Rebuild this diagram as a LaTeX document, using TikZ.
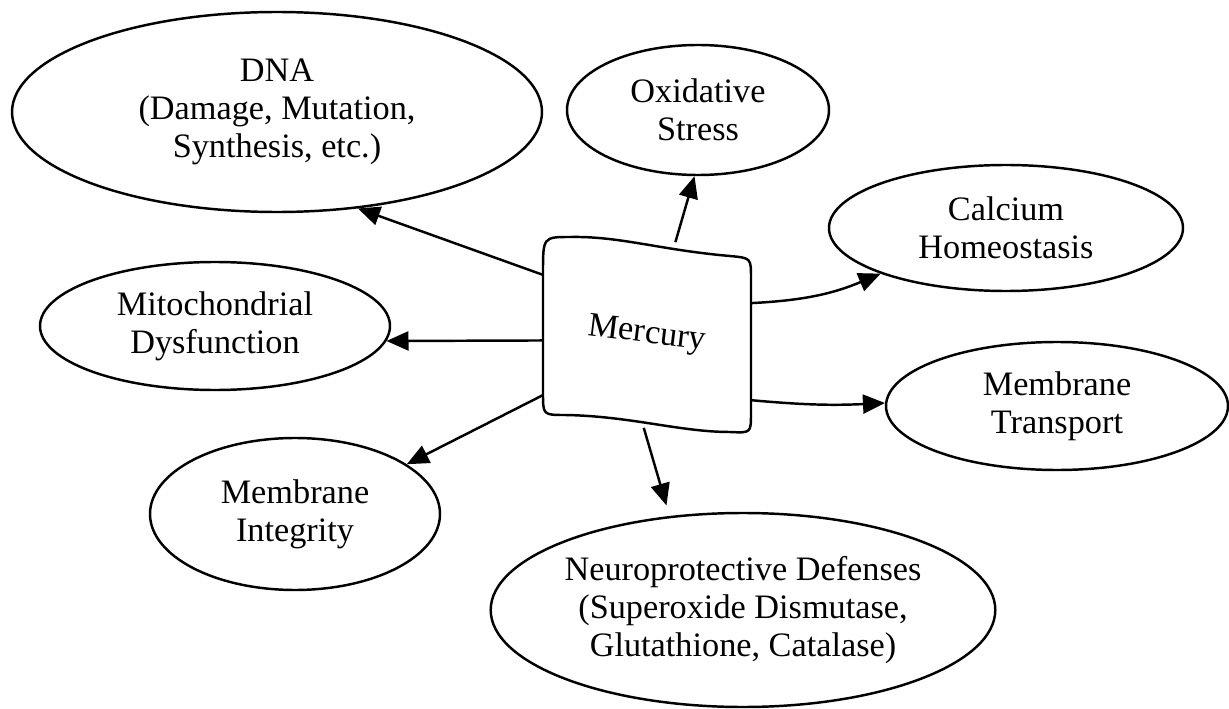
\documentclass[tikz,border=0pt]{standalone}
\usepackage{fontspec}
\setmainfont{Liberation Serif}
\usetikzlibrary{arrows.meta,shapes.geometric}

\begin{document}
\begin{tikzpicture}[
  efecto/.style={ellipse, draw, line width=1.4pt, inner sep=0pt, align=center,
    font=\fontsize{19.5}{21.6}\selectfont},
  flecha/.style={-{Triangle[length=0.44cm,width=0.38cm]}, line width=1.4pt}
]
  \useasboundingbox (0,0) rectangle (24.58,14.16);

  % Nodo central
  \node[minimum width=4.16cm, minimum height=3.7cm, font=\fontsize{19.5}{21.6}\selectfont]
    (hg) at (12.94,7.46) {\raisebox{6pt}{\rotatebox{-7}{Mercury}}};
  \draw[line width=1.4pt] (10.86,8.7) .. controls (10.86,9.42) .. (11.4,9.42)
    .. controls (12.4,9.44) and (13.2,9.16) .. (14.6,9.04)
    .. controls (15.02,9.0) .. (15.02,8.6) -- (15.02,5.9)
    .. controls (15.02,5.5) .. (14.6,5.52)
    .. controls (13.6,5.52) and (12.6,5.84) .. (11.3,5.86)
    .. controls (10.86,5.86) .. (10.86,6.3) -- cycle;

  % Efectos del mercurio
  \node[efecto, minimum width=10.6cm, minimum height=4cm] (dna) at (5.54,11.92)
    {DNA\\(Damage, Mutation,\\Synthesis, etc.)};
  \node[efecto, minimum width=5.24cm, minimum height=2.6cm] (ox) at (13.96,11.96)
    {Oxidative\\Stress};
  \node[efecto, minimum width=7.08cm, minimum height=2.52cm] (ca) at (20.12,9.6)
    {Calcium\\Homeostasis};
  \node[efecto, minimum width=7.0cm, minimum height=2.56cm] (mito) at (4.3,7.64)
    {Mitochondrial\\Dysfunction};
  \node[efecto, minimum width=6.84cm, minimum height=2.56cm] (mt) at (21.14,6.04)
    {Membrane\\Transport};
  \node[efecto, minimum width=5.8cm, minimum height=3.04cm] (mi) at (5.9,3.88)
    {Membrane\\Integrity};
  \node[efecto, minimum width=10.08cm, minimum height=3.88cm] (np) at (14.86,1.96)
    {Neuroprotective Defenses\\(Superoxide Dismutase,\\Glutathione, Catalase)};

  % Flechas
  \draw[flecha] (hg.150) -- (dna.-50);
  \draw[flecha] (hg.73) -- (ox.-93);
  \draw[flecha] (hg.17) to[bend right=10] (ca.-160);
  \draw[flecha] (hg.183) -- (mito.-5);
  \draw[flecha] (hg.-32) to[bend right=4] (mt.179);
  \draw[flecha] (hg.-150) -- (mi.24);
  \draw[flecha, shorten >=0.22cm] (hg.-92) -- (np.128);
\end{tikzpicture}
\end{document}
